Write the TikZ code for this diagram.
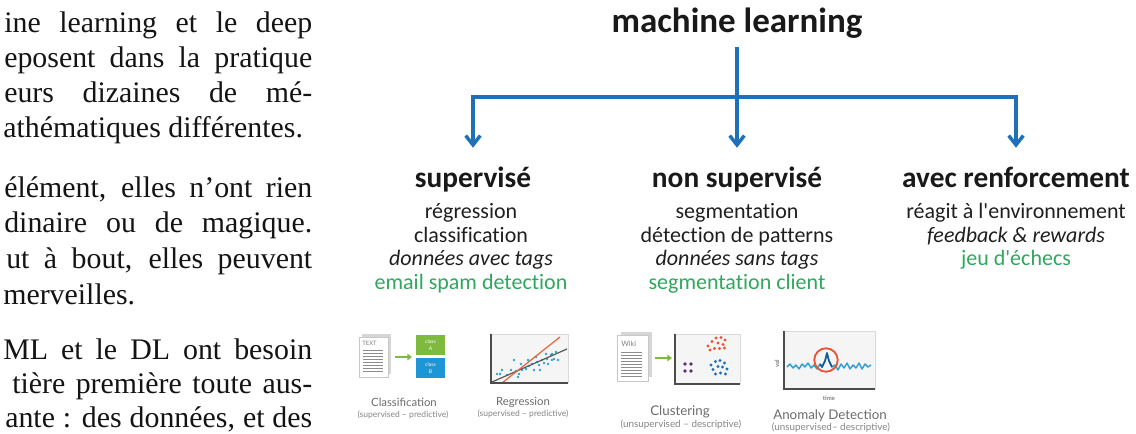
\documentclass[tikz,border=0pt]{standalone}
\usepackage{fontspec}
\setmainfont{Liberation Serif}
\newfontfamily\slidefont[Ligatures=NoCommon]{Carlito}
\newfontfamily\capfont{Lato}
\usetikzlibrary{arrows.meta}

\definecolor{flowblue}{RGB}{30,112,184}
\definecolor{exgreen}{RGB}{46,168,92}
\definecolor{leafgreen}{RGB}{125,186,62}
\definecolor{skyblue}{RGB}{30,150,214}
\definecolor{dotteal}{RGB}{50,160,210}
\definecolor{redorange}{RGB}{232,85,55}
\definecolor{plum}{RGB}{90,45,130}
\definecolor{deepblue}{RGB}{25,110,190}
\definecolor{trendorange}{RGB}{230,100,60}

% a justified line of the running text, cut at the left margin
\newcommand\jline[2][231pt]{\makebox[#1][s]{#2}}

\begin{document}
\begin{tikzpicture}[x=0.75pt,y=-0.75pt,
  prose/.style={anchor=base west, inner sep=0, text=black!92,
    font=\fontsize{22.4}{26}\selectfont},
  title/.style={anchor=base, inner sep=0, text=black!90,
    font=\slidefont\bfseries\fontsize{26.25}{30}\selectfont},
  head/.style={anchor=base, inner sep=0, text height=16pt, text=black!90,
    font=\slidefont\bfseries\fontsize{22}{26}\selectfont},
  item/.style={anchor=base, inner sep=0, text=black!88,
    font=\slidefont\fontsize{16.5}{20}\selectfont},
  example/.style={item, text=exgreen},
  link/.style={draw=flowblue, line width=2.6pt},
  tip/.style={-{Straight Barb[length=7pt,width=11pt]}},
  capmain/.style={anchor=base, inner sep=0, text=black!58,
    font=\capfont\fontsize{8.5}{10}\selectfont},
  capsub/.style={anchor=base, inner sep=0, text=black!48,
    font=\capfont\fontsize{6.4}{7}\selectfont},
  capbig/.style={capmain, font=\capfont\fontsize{10}{11}\selectfont},
  capbigsub/.style={capsub, font=\capfont\fontsize{7.4}{8}\selectfont},
  tinylabel/.style={inner sep=0, text=black!50, font=\capfont\fontsize{4.5}{5}\selectfont},
  sheetline/.style={draw=black!45, line width=0.6pt},
  plotbg/.style={fill=black!4},
  plotrim/.style={draw=black!15, line width=0.4pt},
  plotaxis/.style={draw=black!70, line width=0.9pt},
  greenarrow/.style={draw=leafgreen, line width=1.5pt, -{Triangle[length=3.5pt,width=5pt]}}
]
\useasboundingbox (0,0) rectangle (1136,434);
\clip (0,0) rectangle (1136,434);

% ---------- running text on the left ----------
\node[prose] (p1)  at (4,33)  {\jline{ine learning et le deep}};
\node[prose] (p2)  at (4,68)  {\jline{eposent dans la pratique}};
\node[prose] (p3)  at (4,103) {\jline{eurs dizaines de mé-}};
\node[prose] (p4)  at (3,138) {athématiques différentes.};
\node[prose] (p5)  at (4,198) {\jline{élément, elles n’ont rien}};
\node[prose] (p6)  at (4,233) {\jline{dinaire ou de magique.}};
\node[prose] (p7)  at (6,269) {\jline[229.5pt]{ut à bout, elles peuvent}};
\node[prose] (p8)  at (3,305) {merveilles.};
\node[prose] (p9)  at (3,360) {\jline[231.75pt]{ML et le DL ont besoin}};
\node[prose] (p10) at (12,394) {\jline[225pt]{tière première toute aus-}};
\node[prose] (p11) at (5,428) {\jline[230.25pt]{ante : des données, et des}};

% ---------- tree ----------
\node[title] (ml) at (737,33) {machine learning};

\node[head] (sup) at (473,188) {supervisé};
\node[head] (uns) at (737,188) {non supervisé};
\node[head] (rl)  at (1016,188) {avec renforcement};

\coordinate (fork) at (737,97);
\draw[link, shorten <=6pt] (ml.south) -- (fork);
\draw[link, tip, shorten >=14pt] (fork) -| (sup.north);
\draw[link, tip, shorten >=14pt] (fork) -- (uns.north);
\draw[link, tip, shorten >=14pt] (fork) -| (rl.north);

% supervised column
\node[item]    (s1) at (471,219)   {régression};
\node[item]    (s2) at (471,242.5) {classification};
\node[item]    (s3) at (471,266)   {\itshape données avec tags};
\node[example] (s4) at (471,289.5) {email spam detection};

% unsupervised column
\node[item]    (u1) at (737,219)   {segmentation};
\node[item]    (u2) at (737,242.5) {détection de patterns};
\node[item]    (u3) at (737,266)   {\itshape données sans tags};
\node[example] (u4) at (737,289.5) {segmentation client};

% reinforcement column
\node[item]    (r1) at (1016,219)   {réagit à l\textquotesingle environnement};
\node[item]    (r2) at (1016,242.5) {\itshape feedback \& rewards};
\node[example] (r3) at (1016,266)   {jeu d\textquotesingle échecs};

% ---------- icon: classification ----------
\fill[black!16] (362,334) rectangle (391,374);
\filldraw[fill=white, draw=black!22, line width=0.4pt] (359,337) rectangle (388,377);
\node[tinylabel, anchor=west] at (362,343) {TEXT};
\foreach \y in {350,353,...,371} \draw[sheetline] (363,\y) -- (383,\y);
\draw[greenarrow] (395,357) -- (412,357);
\fill[leafgreen] (416,335) rectangle (445,355);
\fill[skyblue] (416,358) rectangle (445,378);
\node[tinylabel, text=white, align=center, font=\capfont\fontsize{3.8}{5}\selectfont] at (430.5,345) {class\\A};
\node[tinylabel, text=white, align=center, font=\capfont\fontsize{3.8}{5}\selectfont] at (430.5,368) {class\\B};
\node[capmain] (c1) at (404,407) {Classification};
\node[capsub] (d1) at (403,418) {(supervised – predictive)};

% ---------- icon: regression ----------
\fill[plotbg] (491,334) rectangle (568,383);
\draw[plotrim] (491,334) -- (568,334) -- (568,383);
\foreach \p in {(497,374),(500,374),(502,370),(507,375),(511,370),(514,360),(516,371),
  (518,377),(519,374),(521,364),(522,370),(526,369),(528,360),(529,366),(532,364),
  (534,370),(536,357),(537,362),(539,365),(540,370),(542,360),(544,363),(546,354),
  (547,359),(548,364),(551,355),(552,360),(552,354),(554,359),(556,352),(558,360)}
  \fill[dotteal] \p circle (1pt);
\draw[black!65, line width=0.9pt] (492,382) -- (567,349);
\draw[trendorange, line width=0.9pt] (502,383) -- (560,337);
\draw[plotaxis] (491,334) -- (491,383) -- (568,383);
\node[capmain] (c2) at (523,406) {Regression};
\node[capsub] (d2) at (523,417) {(supervised – predictive)};

% ---------- icon: clustering ----------
\fill[black!16] (621,332) rectangle (652,377);
\filldraw[fill=white, draw=black!22, line width=0.4pt] (617,335) rectangle (648,381);
\node[tinylabel, anchor=west, font=\capfont\fontsize{5.5}{6}\selectfont] at (621,344) {Wiki};
\foreach \y in {352,355,...,376} \draw[sheetline] (621,\y) -- (642,\y);
\draw[greenarrow] (655,358) -- (672,358);
\fill[plotbg] (675,334) rectangle (740,384);
\draw[plotrim] (675,334) -- (740,334) -- (740,384);
\draw[plotaxis] (675,334) -- (675,384) -- (740,384);
\foreach \p in {(708,346),(712,341.5),(716,338),(721,337.5),(725,340),(718,343),
  (723,344.5),(710,350),(714.5,348.5),(719.5,348.5),(724.5,348)}
  \fill[redorange] \p circle (1.3pt);
\foreach \p in {(685,364),(691,364),(685,371),(691,371)}
  \fill[plum] \p circle (1.4pt);
\foreach \p in {(711,365),(715.5,361.5),(720,360.5),(724.5,363),(713,369.5),(718,366.5),
  (722.5,367),(727,369),(715.5,374),(720.5,373),(725.5,374)}
  \fill[deepblue] \p circle (1.3pt);
\node[capbig] (c3) at (680,416) {Clustering};
\node[capbigsub] (d3) at (681,428) {(unsupervised – descriptive)};

% ---------- icon: anomaly detection ----------
\fill[plotbg] (784,331) rectangle (875,389);
\draw[plotrim] (784,331) -- (875,331) -- (875,389);
\draw[plotaxis] (784,331) -- (784,389) -- (875,389);
\draw[dotteal, line width=1.1pt, line join=round]
  (787,367) -- (790,364) -- (793,368) -- (796,365) -- (799,369) -- (802,364)
  -- (805,367) -- (808,363) -- (811,368) -- (814,365) -- (817,369) -- (820,364)
  -- (822,367) -- (825,361) -- (827,353) -- (829,361) -- (832,367) -- (835,365)
  -- (838,370) -- (841,364) -- (844,368) -- (847,363) -- (850,369) -- (853,365)
  -- (856,368) -- (859,363) -- (862,369) -- (865,364) -- (868,367) -- (871,365);
\draw[deepblue!80!black, line width=1.2pt, line join=round]
  (820,364) -- (822,367) -- (825,361) -- (827,353) -- (829,361) -- (832,367);
\draw[redorange, line width=1.4pt] (826,360) circle (8.8pt);
\node[tinylabel, rotate=90, font=\capfont\bfseries\fontsize{4.5}{5}\selectfont] at (777,364) {val};
\node[tinylabel, font=\capfont\bfseries\fontsize{4.5}{5}\selectfont] at (829,398) {time};
\node[capbig] (c4) at (830,420) {Anomaly Detection};
\node[capbigsub] (d4) at (831,431) {(unsupervised– descriptive)};

\end{tikzpicture}
\end{document}
